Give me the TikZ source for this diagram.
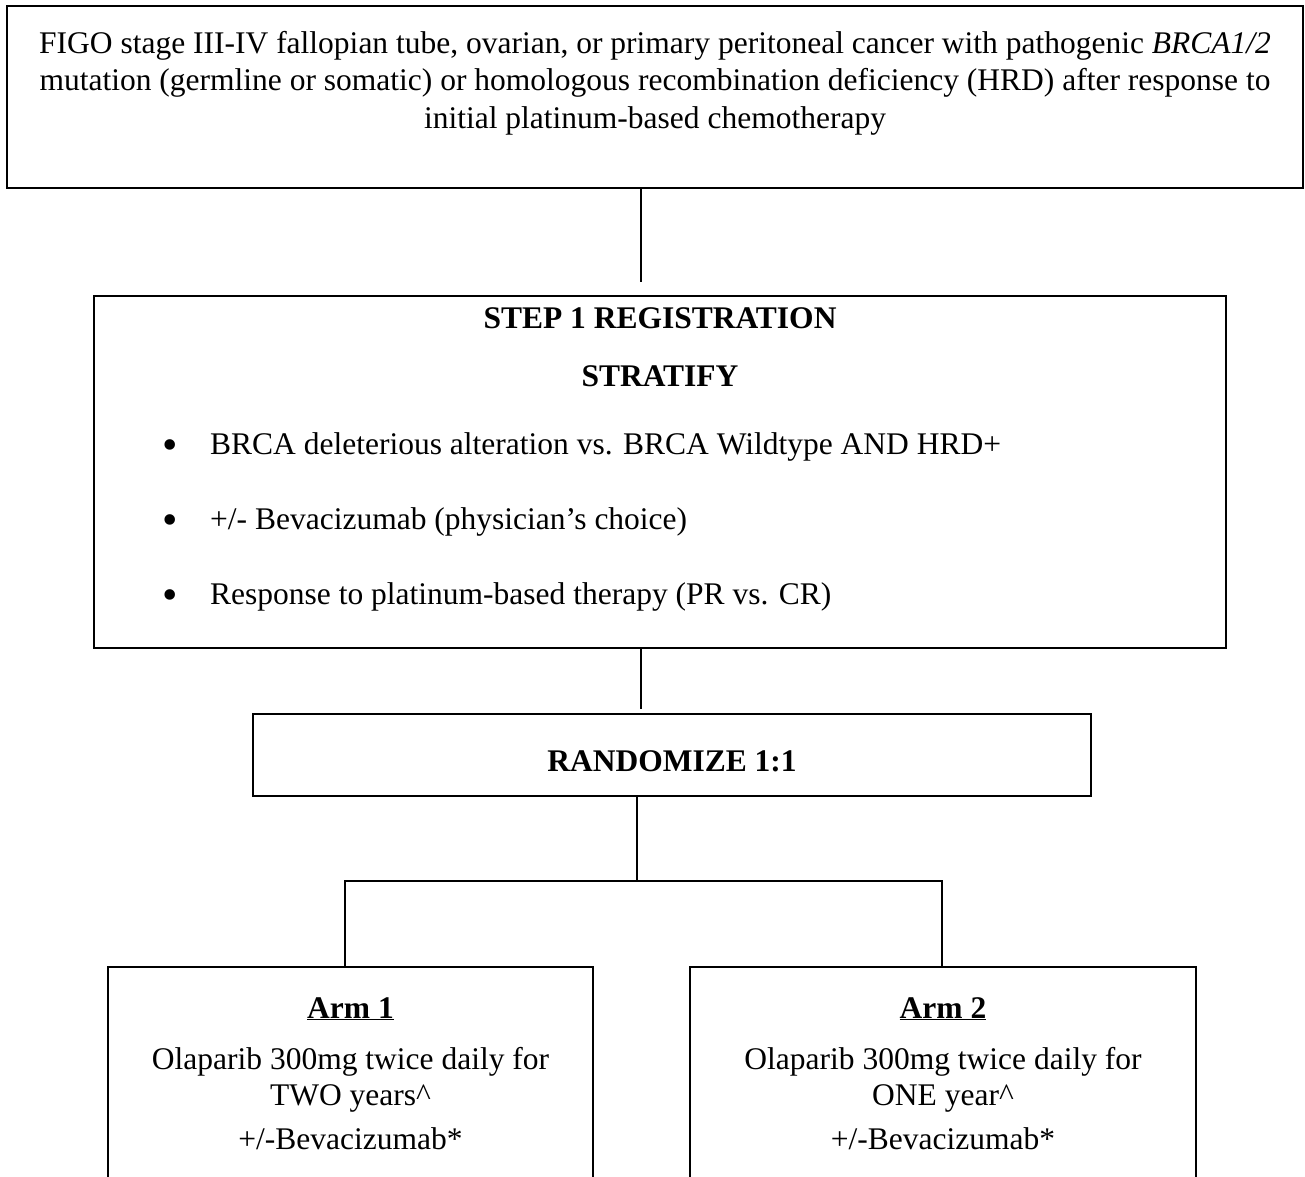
\documentclass[tikz,border=0pt]{standalone}
\usepackage{fontspec}
\setmainfont{Liberation Serif}
\begin{document}
\begin{tikzpicture}[x=1pt, y=-1pt,
    box/.style={draw, line width=1.6pt, inner sep=0pt},
    txt/.style={inner sep=0pt, font=\fontsize{31.5}{37}\selectfont},
    bold/.style={inner sep=0pt, font=\fontsize{31.5}{37}\selectfont\bfseries},
    link/.style={line width=1.3pt}]
  \useasboundingbox (0,0) rectangle (1305,1176);
  % frames
  \node[box, minimum width=1296pt, minimum height=182pt] (elig) at (655,97) {};
  \node[box, minimum width=1132pt, minimum height=352pt] (step) at (660,472) {};
  \node[box, minimum width=838pt, minimum height=82pt] (rand) at (672,755) {};
  \node[box, minimum width=485pt, minimum height=300pt] (arm1) at (350.5,1117) {};
  \node[box, minimum width=506pt, minimum height=300pt] (arm2) at (943,1117) {};
  % eligibility
  \node[txt, align=center, anchor=north, font=\fontsize{31.5}{37.5}\selectfont]
    (eligtext) at (655,31)
    {FIGO stage III-IV fallopian tube, ovarian, or primary peritoneal cancer with pathogenic \textit{BRCA1/2}\\
     mutation (germline or somatic) or homologous recombination deficiency (HRD) after response to\\
     initial platinum-based chemotherapy};
  % registration and strata
  \node[bold, anchor=base] (steptitle) at (660,328) {STEP 1 REGISTRATION};
  \node[bold, anchor=base] (strat) at (660,386) {STRATIFY};
  \foreach \txt [count=\i] in {{BRCA deleterious alteration vs. BRCA Wildtype AND HRD+},
      {+/- Bevacizumab (physician’s choice)},
      {Response to platinum-based therapy (PR vs. CR)}}
    {
      \node[inner sep=0pt, font=\fontsize{44}{44}\selectfont] (dot\i) at (170,{375+75*\i}) {•};
      \node[txt, anchor=base west] (item\i) at (210,{379+75*\i}) {\txt};
    }
  \node[bold, anchor=base] (randtext) at (672,771) {RANDOMIZE 1:1};
  % arms
  \node[bold, anchor=base] (arm1title) at (350.5,1018) {\underline{Arm 1}};
  \node[txt, align=center, anchor=north, font=\fontsize{31.5}{36}\selectfont]
    (arm1text) at (350.5,1047)
    {Olaparib 300mg twice daily for\\ TWO years\textasciicircum\\[8pt] +/-Bevacizumab*};
  \node[bold, anchor=base] (arm2title) at (943,1018) {\underline{Arm 2}};
  \node[txt, align=center, anchor=north, font=\fontsize{31.5}{36}\selectfont]
    (arm2text) at (943,1047)
    {Olaparib 300mg twice daily for\\ ONE year\textasciicircum\\[8pt] +/-Bevacizumab*};
  % connectors
  \coordinate (c1) at (641,282);
  \coordinate (c2) at (641,709);
  \coordinate (fork) at (637,881);
  \coordinate (b1) at (345,881);
  \coordinate (b2) at (942,881);
  \draw[link] (elig.south -| c1) -- (c1);
  \draw[link] (step.south -| c2) -- (c2);
  \draw[link] (rand.south -| fork) -- (fork);
  \draw[link] (arm1.north -| b1) -- (b1) -- (b2) -- (arm2.north -| b2);
\end{tikzpicture}
\end{document}
